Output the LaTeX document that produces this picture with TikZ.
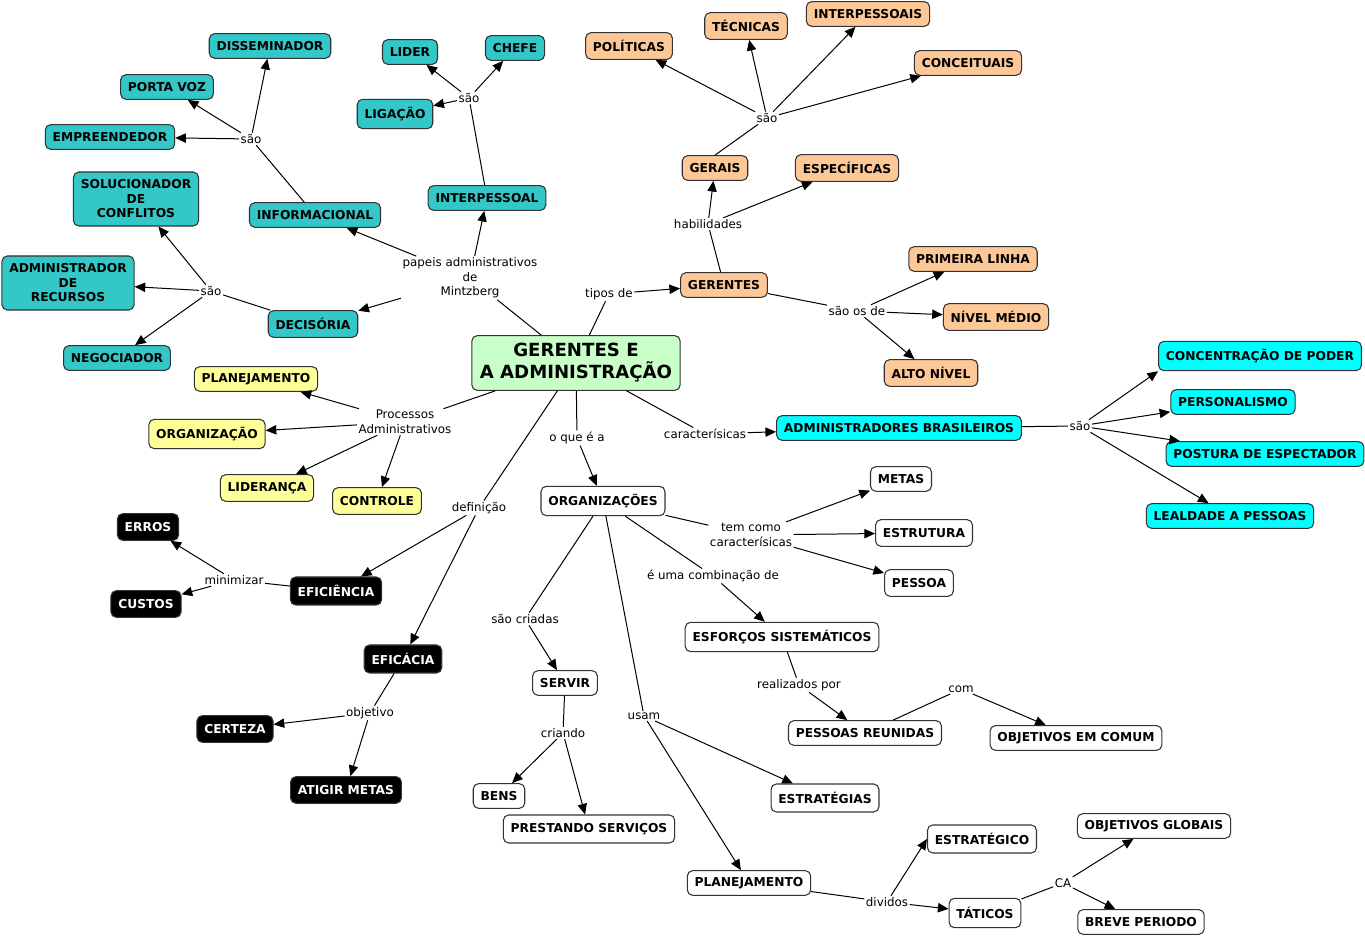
\documentclass[tikz,border=0pt]{standalone}
\usepackage{fontspec}
\setmainfont{DejaVu Sans}
\usetikzlibrary{arrows.meta}
\definecolor{cteal}{RGB}{51,199,199}
\definecolor{corange}{RGB}{253,200,152}
\definecolor{cgreen}{RGB}{200,255,200}
\definecolor{ccyan}{RGB}{0,255,255}
\definecolor{cyellow}{RGB}{255,255,153}
\tikzset{
  cbase/.style={draw=black!80, line width=0.8pt, rounded corners=4pt, inner xsep=5.5pt, inner ysep=2pt,
    minimum height=18.5pt, align=center, font=\fontsize{9.2}{10.9}\selectfont\bfseries},
  tealc/.style={cbase, fill=cteal},
  tealtall/.style={cbase, fill=cteal, minimum height=40.5pt},
  orangec/.style={cbase, fill=corange},
  greenc/.style={cbase, fill=cgreen, font=\fontsize{13.6}{16.5}\selectfont\bfseries, inner xsep=6pt, minimum height=41pt},
  cyanc/.style={cbase, fill=ccyan},
  yellowc/.style={cbase, fill=cyellow},
  blackc/.style={cbase, fill=black, text=white, minimum height=20pt},
  whitec/.style={cbase, fill=white},
  lbl/.style={fill=white, inner sep=1pt, align=center, font=\fontsize{8.9}{10.9}\selectfont},
  ln/.style={draw, line width=0.75pt},
  arr/.style={draw, line width=0.75pt, -{Triangle[length=8pt,width=7pt]}}
}
\begin{document}
\begin{tikzpicture}[x=0.75pt,y=-0.75pt]
\useasboundingbox (0,0) rectangle (1365,937);
% teal
\node[tealc] (dis) at (270,46) {DISSEMINADOR};
\node[tealc] (pvz) at (167,87) {PORTA VOZ};
\node[tealc] (emp) at (110,137) {EMPREENDEDOR};
\node[tealc] (lid) at (410,52) {LIDER};
\node[tealc] (che) at (515,48) {CHEFE};
\node[tealc, minimum height=22pt] (lig) at (395,114) {LIGAÇÃO};
\node[tealtall] (sol) at (136,199) {SOLUCIONADOR\\DE\\CONFLITOS};
\node[tealc] (inf) at (315,215) {INFORMACIONAL};
\node[tealc] (int) at (487,198) {INTERPESSOAL};
\node[tealtall] (adr) at (68,283) {ADMINISTRADOR\\DE\\RECURSOS};
\node[tealc, minimum height=20pt] (dec) at (313,324) {DECISÓRIA};
\node[tealc] (neg) at (117,358) {NEGOCIADOR};
\node[lbl] (s1) at (251,139) {são};
\node[lbl] (s2) at (469,98) {são};
\node[lbl] (s3) at (211,291) {são};
\node[lbl] (pap) at (470,278) {papeis administrativos\\de\\Mintzberg};
% orange
\node[orangec, minimum height=20pt] (pol) at (629,46) {POLÍTICAS};
\node[orangec, minimum height=20pt] (tec) at (746,26) {TÉCNICAS};
\node[orangec] (ips) at (868,14) {INTERPESSOAIS};
\node[orangec] (con) at (968,63) {CONCEITUAIS};
\node[orangec] (ger) at (715,168) {GERAIS};
\node[orangec, minimum height=20pt] (esp) at (847,168) {ESPECÍFICAS};
\node[orangec] (gnt) at (724,285) {GERENTES};
\node[orangec] (pri) at (973,259) {PRIMEIRA LINHA};
\node[orangec, minimum height=20pt] (med) at (996,317) {NÍVEL MÉDIO};
\node[orangec, minimum height=20pt] (alt) at (931,373) {ALTO NÍVEL};
\node[lbl] (s4) at (767,118) {são};
\node[lbl] (hab) at (708,224) {habilidades};
\node[lbl] (tip) at (609,294) {tipos de};
\node[lbl] (sod) at (857,311) {são os de};
% central
\node[greenc] (cen) at (576,363) {GERENTES E\\A ADMINISTRAÇÃO};
% cyan
\node[cyanc] (bra) at (899,428) {ADMINISTRADORES BRASILEIROS};
\node[cyanc, minimum height=22pt] (cdp) at (1260,356) {CONCENTRAÇÃO DE PODER};
\node[cyanc] (per) at (1233,402) {PERSONALISMO};
\node[cyanc] (pos) at (1265,454) {POSTURA DE ESPECTADOR};
\node[cyanc] (lea) at (1230,516) {LEALDADE A PESSOAS};
\node[lbl] (car) at (705,434) {caracterísicas};
\node[lbl] (s5) at (1080,426) {são};
% yellow
\node[yellowc] (pla) at (256,379) {PLANEJAMENTO};
\node[yellowc, minimum height=22pt] (org) at (207,434) {ORGANIZAÇÃO};
\node[yellowc, minimum height=20pt] (lde) at (267,488) {LIDERANÇA};
\node[yellowc, minimum height=20pt] (ctr) at (377,501) {CONTROLE};
\node[lbl] (pro) at (405,422) {Processos\\Administrativos};
% black
\node[blackc] (err) at (148,527) {ERROS};
\node[blackc] (cus) at (146,604) {CUSTOS};
\node[blackc, minimum height=21pt] (efi) at (336,591) {EFICIÊNCIA};
\node[blackc, minimum height=21pt] (efc) at (403,659) {EFICÁCIA};
\node[blackc] (cer) at (235,729) {CERTEZA};
\node[blackc] (ati) at (346,790) {ATIGIR METAS};
\node[lbl] (def) at (479,508) {definição};
\node[lbl] (min) at (234,580) {minimizar};
\node[lbl] (obj) at (370,713) {objetivo};
% white
\node[whitec, minimum height=22pt] (ogs) at (603,501) {ORGANIZAÇÕES};
\node[whitec] (met) at (901,479) {METAS};
\node[whitec, minimum height=20pt] (est) at (924,533) {ESTRUTURA};
\node[whitec, minimum height=20pt] (pes) at (919,583) {PESSOA};
\node[whitec, minimum height=22pt] (esf) at (782,637) {ESFORÇOS SISTEMÁTICOS};
\node[whitec] (ser) at (565,683) {SERVIR};
\node[whitec] (pre) at (865,733) {PESSOAS REUNIDAS};
\node[whitec] (oec) at (1076,738) {OBJETIVOS EM COMUM};
\node[whitec] (ben) at (499,796) {BENS};
\node[whitec, minimum height=21pt] (psv) at (589,829) {PRESTANDO SERVIÇOS};
\node[whitec, minimum height=21pt] (etg) at (825,798) {ESTRATÉGIAS};
\node[whitec, minimum height=21pt] (etc) at (982,839) {ESTRATÉGICO};
\node[whitec] (obg) at (1154,826) {OBJETIVOS GLOBAIS};
\node[whitec] (plw) at (749,883) {PLANEJAMENTO};
\node[whitec, minimum height=22pt] (tat) at (985,913) {TÁTICOS};
\node[whitec] (bre) at (1141,922) {BREVE PERIODO};
\node[lbl] (oqe) at (577,438) {o que é a};
\node[lbl] (tcc) at (751,535) {tem como\\caracterísicas};
\node[lbl] (euc) at (713,576) {é uma combinação de};
\node[lbl] (scr) at (525,619) {são criadas};
\node[lbl] (cri) at (563,733) {criando};
\node[lbl] (usa) at (644,716) {usam};
\node[lbl] (rea) at (799,685) {realizados por};
\node[lbl] (com) at (961,689) {com};
\node[lbl] (div) at (887,902) {dividos};
\node[lbl] (ca) at (1063,883) {CA};
% connectors
\draw[ln] (cen) -- (pap);
\draw[arr] (pap) -- (inf);
\draw[arr] (pap) -- (int);
\draw[arr] (pap) -- (dec);
\draw[ln] (inf) -- (s1);
\draw[arr] (s1) -- (dis);
\draw[arr] (s1) -- (pvz);
\draw[arr] (s1) -- (emp);
\draw[ln] (int) -- (s2);
\draw[arr] (s2) -- (lid);
\draw[arr] (s2) -- (che);
\draw[arr] (s2) -- (lig);
\draw[ln] (dec) -- (s3);
\draw[arr] (s3) -- (sol);
\draw[arr] (s3) -- (adr);
\draw[arr] (s3) -- (neg);
\draw[ln] (cen) -- (tip);
\draw[arr] (tip) -- (gnt);
\draw[ln] (gnt) -- (hab);
\draw[arr] (hab) -- (ger);
\draw[arr] (hab) -- (esp);
\draw[ln] (ger.north) -- (s4);
\draw[arr] (s4) -- (pol);
\draw[arr] (s4) -- (tec);
\draw[arr] (s4) -- (ips);
\draw[arr] (s4) -- (con);
\draw[ln] (gnt) -- (sod);
\draw[arr] (sod) -- (pri);
\draw[arr] (sod) -- (med);
\draw[arr] (sod) -- (alt);
\draw[ln] (cen) -- (car);
\draw[arr] (car) -- (bra);
\draw[ln] (bra) -- (s5);
\draw[arr] (s5) -- (cdp.south west);
\draw[arr] (s5) -- (per);
\draw[arr] (s5) -- (pos);
\draw[arr] (s5) -- (lea);
\draw[ln] (cen) -- (pro);
\draw[arr] (pro) -- (pla);
\draw[arr] (pro) -- (org);
\draw[arr] (pro) -- (lde);
\draw[arr] (pro) -- (ctr);
\draw[ln] (cen) -- (def);
\draw[arr] (def) -- (efi);
\draw[arr] (def) -- (efc);
\draw[ln] (efi) -- (min);
\draw[arr] (min) -- (err);
\draw[arr] (min) -- (cus);
\draw[ln] (efc) -- (obj);
\draw[arr] (obj) -- (cer);
\draw[arr] (obj) -- (ati);
\draw[ln] (cen) -- (oqe);
\draw[arr] (oqe) -- (ogs);
\draw[ln] (ogs) -- (tcc);
\draw[arr] (tcc) -- (met);
\draw[arr] (tcc) -- (est);
\draw[arr] (tcc) -- (pes);
\draw[ln] (ogs) -- (euc);
\draw[arr] (euc) -- (esf);
\draw[ln] (ogs) -- (scr);
\draw[arr] (scr) -- (ser);
\draw[ln] (ogs) -- (usa);
\draw[arr] (usa) -- (etg);
\draw[arr] (usa) -- (plw);
\draw[ln] (ser) -- (cri);
\draw[arr] (cri) -- (ben);
\draw[arr] (cri) -- (psv);
\draw[ln] (esf) -- (rea);
\draw[arr] (rea) -- (pre);
\draw[ln] (pre) -- (com);
\draw[arr] (com) -- (oec);
\draw[ln] (plw) -- (div);
\draw[arr] (div) -- (etc.west);
\draw[arr] (div) -- (tat);
\draw[ln] (tat) -- (ca);
\draw[arr] (ca) -- (obg);
\draw[arr] (ca) -- (bre);
\end{tikzpicture}
\end{document}
